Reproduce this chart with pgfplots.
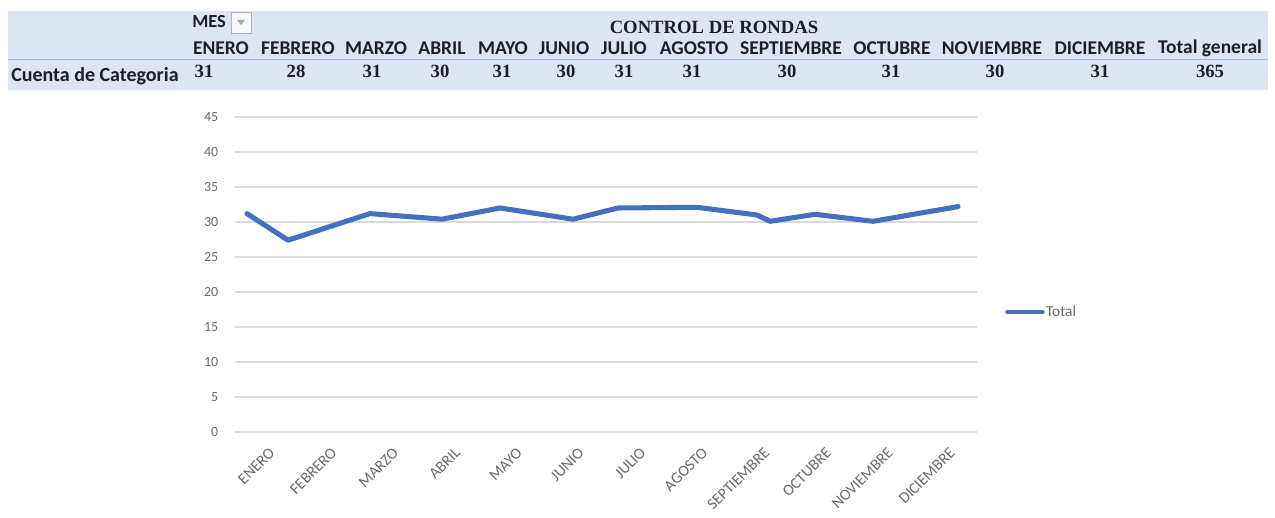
\documentclass[border=0pt]{standalone}
\usepackage{pgfplots}
\pgfplotsset{compat=1.18}
\usepackage{fontspec}
\setmainfont{Carlito}
\newfontfamily\serifhead{Liberation Serif}
\definecolor{tblbg}{RGB}{221,229,242}
\definecolor{tblline}{RGB}{160,185,220}
\definecolor{lineblue}{RGB}{68,112,192}
\definecolor{tickgray}{RGB}{105,105,105}
\definecolor{gridgray}{RGB}{217,217,217}
\definecolor{headtext}{RGB}{30,30,40}
\begin{document}
\begin{tikzpicture}
\begin{scope}[x=0.75pt,y=0.75pt]
\path[use as bounding box] (0,0) rectangle (1275,516);
% pivot table
\fill[tblbg] (8,426) rectangle (1268,506);
\draw[tblline, line width=0.75pt] (8,456) -- (1268,456);
\draw[white!85!tblbg, line width=0.6pt] (8,506) -- (1268,506);
% MES with drop-down
\node[anchor=west, inner sep=0pt, text=headtext, font=\bfseries\fontsize{13.8}{15}\selectfont] at (192,494) {MES};
\draw[gray!60, fill=white!70!tblbg, line width=0.5pt] (231,483) rectangle (251,504);
\fill[gray!70] (237,496) -- (245,496) -- (241,491) -- cycle;
% title
\node[inner sep=0pt, text=headtext, font=\serifhead\bfseries\fontsize{14}{16}\selectfont] at (714,489) {CONTROL DE RONDAS};
% month header row
\begin{scope}[every node/.style={inner sep=0pt, text=headtext, font=\bfseries\fontsize{14.6}{16}\selectfont}]
\node at (221,468) {ENERO};
\node at (298,468) {FEBRERO};
\node at (376,468) {MARZO};
\node at (442,468) {ABRIL};
\node at (503,468) {MAYO};
\node at (564,468) {JUNIO};
\node at (624,468) {JULIO};
\node at (694,468) {AGOSTO};
\node at (791,468) {SEPTIEMBRE};
\node at (892,468) {OCTUBRE};
\node at (992,468) {NOVIEMBRE};
\node at (1100,468) {DICIEMBRE};
\node at (1210,468) {Total general};
\end{scope}
\node[anchor=west, inner sep=0pt, text=headtext, font=\bfseries\fontsize{15}{17}\selectfont] at (11,440) {Cuenta de Categoria};
% values row
\begin{scope}[every node/.style={inner sep=0pt, text=headtext, font=\serifhead\bfseries\fontsize{14}{16}\selectfont}]
\node at (204,445) {31};
\node at (296,445) {28};
\node at (372,445) {31};
\node at (440,445) {30};
\node at (502,445) {31};
\node at (566,445) {30};
\node at (624,445) {31};
\node at (692,445) {31};
\node at (787,445) {30};
\node at (891,445) {31};
\node at (995,445) {30};
\node at (1100,445) {31};
\node at (1210,445) {365};
\end{scope}
\end{scope}
\begin{axis}[
  at={(176.25pt,63pt)}, anchor=south west,
  scale only axis, width=556.5pt, height=236.25pt,
  xmin=-0.5, xmax=11.5, ymin=0, ymax=45,
  xtick={0,...,11},
  xticklabels={ENERO,FEBRERO,MARZO,ABRIL,MAYO,JUNIO,JULIO,AGOSTO,SEPTIEMBRE,OCTUBRE,NOVIEMBRE,DICIEMBRE},
  ytick={0,5,...,45},
  ymajorgrids, grid style={gridgray, line width=1.1pt},
  axis line style={draw=none},
  major tick length=0pt,
  tick label style={text=tickgray},
  y tick label style={font=\fontsize{10.5}{12}\selectfont, xshift=-9pt},
  /pgf/number format/assume math mode=true,
  x tick label style={font=\fontsize{11.8}{13}\selectfont, rotate=45, anchor=east, yshift=-13pt, xshift=-3pt},
  clip=false,
  legend style={at={(1.0377,0.381)}, anchor=west, draw=none, fill=none, inner sep=0pt,
    font=\fontsize{11.5}{13}\selectfont, text=tickgray,
    nodes={inner sep=1pt}},
  legend image code/.code={\draw[#1, line width=2.6pt] (0pt,0pt) -- (27pt,0pt);},
]
\addplot[lineblue, line width=3.8pt, line join=round, line cap=round] coordinates {
(-0.306,31.2) (0.357,27.4) (1.683,31.2) (2.848,30.4) (3.786,32.0) (4.967,30.4)
(5.694,32.0) (6.972,32.1) (7.943,31.0) (8.153,30.1) (8.880,31.1) (9.818,30.1) (11.193,32.2)
};
\addlegendentry{Total}
\end{axis}
\end{tikzpicture}
\end{document}
